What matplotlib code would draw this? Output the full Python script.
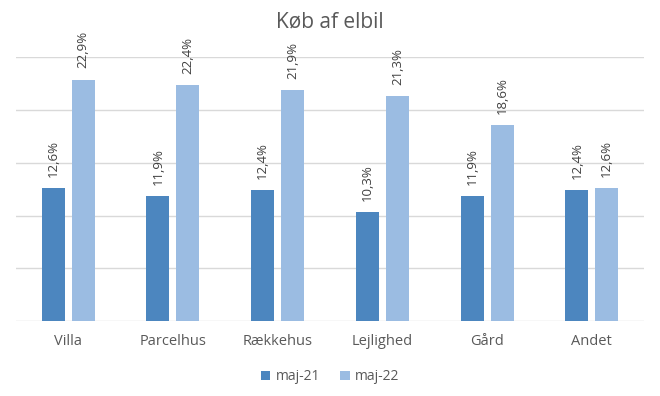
import matplotlib.pyplot as plt
import numpy as np

categories = ["Villa", "Parcelhus", "Rækkehus", "Lejlighed", "Gård", "Andet"]
series_names = ["maj-21", "maj-22"]
maj21 = [12.6, 11.9, 12.4, 10.3, 11.9, 12.4]
maj22 = [22.9, 22.4, 21.9, 21.3, 18.6, 12.6]

dark = "#4C86BF"
light = "#9BBCE2"
grey = "#595959"

plt.rcParams["font.family"] = ["Open Sans", "DejaVu Sans"]


def plot_chart(output_path="out.png"):
    fig = plt.figure(figsize=(6.6, 3.96), dpi=100)
    ax = fig.add_axes([0.024, 0.189, 0.952, 0.666])

    x = np.arange(len(categories))
    w = 0.22
    off = 0.143
    b1 = ax.bar(x - off, maj21, w, color=dark, label=series_names[0], zorder=3)
    b2 = ax.bar(x + off, maj22, w, color=light, label=series_names[1], zorder=3)

    for bars, vals in ((b1, maj21), (b2, maj22)):
        for rect, v in zip(bars, vals):
            ax.annotate(f"{v:.1f}%".replace(".", ","),
                        (rect.get_x() + rect.get_width() / 2, rect.get_height()),
                        xytext=(0, 8), textcoords="offset points",
                        rotation=90, ha="center", va="bottom",
                        fontsize=9.5, color="#404040")

    ax.set_xlim(-0.5, len(categories) - 0.5)
    ax.set_ylim(0, 25)
    ax.set_yticks([0, 5, 10, 15, 20, 25])
    ax.yaxis.grid(True, color="#D9D9D9", linewidth=1, zorder=0)
    ax.tick_params(axis="y", left=False, labelleft=False)
    ax.tick_params(axis="x", length=0, pad=9, labelsize=10.5, labelcolor=grey)
    ax.set_xticks(x)
    ax.set_xticklabels(categories)
    for s in ax.spines.values():
        s.set_visible(False)

    fig.text(0.5, 0.945, "Køb af elbil", ha="center", va="center",
             fontsize=15, color=grey)

    fig.legend(handles=[b1, b2], loc="center", bbox_to_anchor=(0.5, 0.048),
               ncol=2, frameon=False, fontsize=10, labelcolor=grey,
               handlelength=0.7, handleheight=0.7, handletextpad=0.4,
               columnspacing=1.4)

    fig.savefig(output_path, dpi=100)


if __name__ == "__main__":
    plot_chart()
